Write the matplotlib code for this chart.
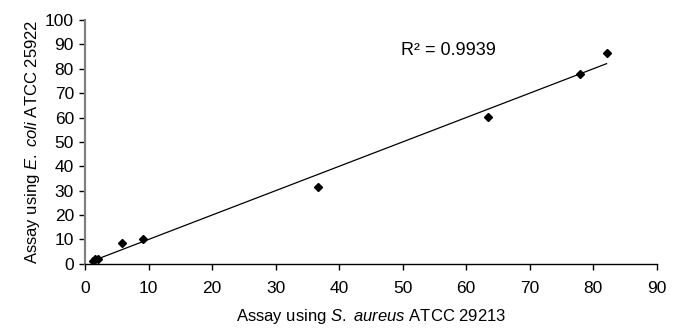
import numpy as np
import matplotlib
matplotlib.use("Agg")
import matplotlib.pyplot as plt

plt.rcParams['font.family'] = ['Liberation Sans', 'DejaVu Sans']
plt.rcParams['mathtext.fontset'] = 'custom'
plt.rcParams['mathtext.rm'] = 'Liberation Sans'
plt.rcParams['mathtext.it'] = 'Liberation Sans:italic'

x_vals = [1.3, 1.6, 2.0, 5.8, 9.1, 36.7, 63.5, 77.9, 82.1]
y_vals = [1.2, 1.8, 2.0, 8.6, 10.3, 31.4, 60.4, 77.9, 86.6]
r2_label = "R² = 0.9939"
x_ticks = list(range(0, 91, 10))
y_ticks = list(range(0, 101, 10))

fig = plt.figure(figsize=(6.75, 3.29), dpi=100)
ax = fig.add_axes([0.126, 0.198, 0.847, 0.741])

ax.plot(x_vals, y_vals, linestyle='none', marker='D', markersize=4.5,
        color='black', zorder=3)

coef = np.polyfit(x_vals, y_vals, 1)
xl = np.array([min(x_vals), max(x_vals)])
ax.plot(xl, np.polyval(coef, xl), color='black', linewidth=0.9, zorder=2)

ax.text(49.7, 87.4, r2_label, ha='left', va='center', fontsize=13)

ax.set_xlim(0, 90)
ax.set_ylim(0, 100)
ax.set_xticks(x_ticks)
ax.set_yticks(y_ticks)
ax.tick_params(axis='both', labelsize=12.5, length=4, width=1, color='black', pad=4)
ax.tick_params(axis='x', pad=8)
for s in ['top', 'right']:
    ax.spines[s].set_visible(False)
ax.spines['left'].set_color('#808080')
ax.spines['left'].set_linewidth(1.6)
ax.spines['bottom'].set_color('black')
ax.spines['bottom'].set_linewidth(1.0)

ax.set_xlabel("Assay using $\\it{S.}$ $\\it{aureus}$ ATCC 29213", fontsize=12, labelpad=8)
ax.set_ylabel("Assay using $\\it{E.}$ $\\it{coli}$ ATCC 25922", fontsize=12, labelpad=2)

fig.savefig("out.png", dpi=100)
